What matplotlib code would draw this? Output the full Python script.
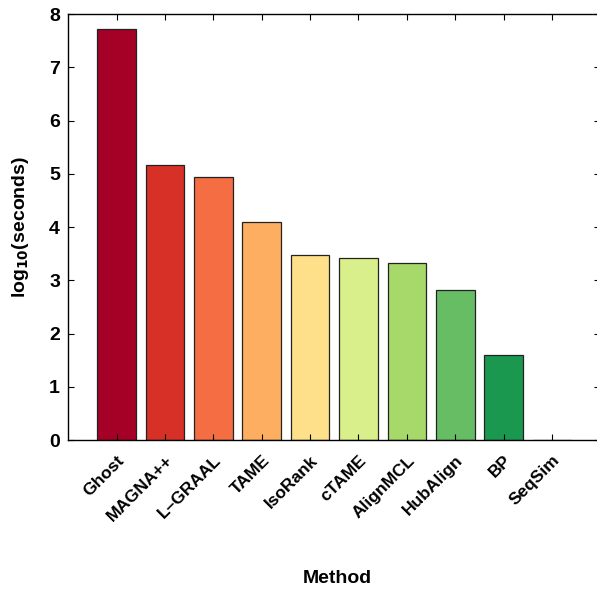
import numpy as np
import matplotlib
matplotlib.use("Agg")
import matplotlib.pyplot as plt

plt.rcParams['font.family'] = ['Liberation Sans', 'DejaVu Sans']
plt.rcParams['font.weight'] = 'bold'
plt.rcParams['mathtext.default'] = 'bf'

methods = ['Ghost', 'MAGNA++', 'L\u2013GRAAL', 'TAME', 'IsoRank', 'cTAME',
           'AlignMCL', 'HubAlign', 'BP', 'SeqSim']
log_seconds = [7.72, 5.16, 4.94, 4.09, 3.47, 3.42, 3.32, 2.82, 1.60, 0.0]
# RdYlGn (11 class) without the middle yellow
colors = ['#a50026', '#d73027', '#f46d43', '#fdae61', '#fee08b',
          '#d9ef8b', '#a6d96a', '#66bd63', '#1a9850', '#006837']

fig = plt.figure(figsize=(5.97, 5.90), dpi=100)
ax = fig.add_axes([0.1145, 0.254, 0.891, 0.722])

pos = np.arange(1, len(methods) + 1)
ax.bar(pos, log_seconds, width=0.8, color=colors, edgecolor='#222222', linewidth=0.9)

ax.set_xlim(0, 11)
ax.set_ylim(0, 8)
ax.set_xticks(pos)
ax.set_xticklabels(methods, rotation=45, ha='right', rotation_mode='anchor',
                   fontsize=12.5, fontweight='bold')
ax.set_yticks(range(0, 9))
ax.tick_params(axis='y', labelsize=14, pad=6)
ax.tick_params(axis='x', pad=9)
ax.tick_params(direction='in', top=True, right=True, length=4, width=0.8)
for s in ax.spines.values():
    s.set_linewidth(1.0)

ax.set_ylabel('log$_{10}$(seconds)', fontsize=14, fontweight='bold', labelpad=13)
fig.text(0.565, 0.005, 'Method', fontsize=14, fontweight='bold', ha='center', va='bottom')

fig.savefig('out.png', dpi=100)
